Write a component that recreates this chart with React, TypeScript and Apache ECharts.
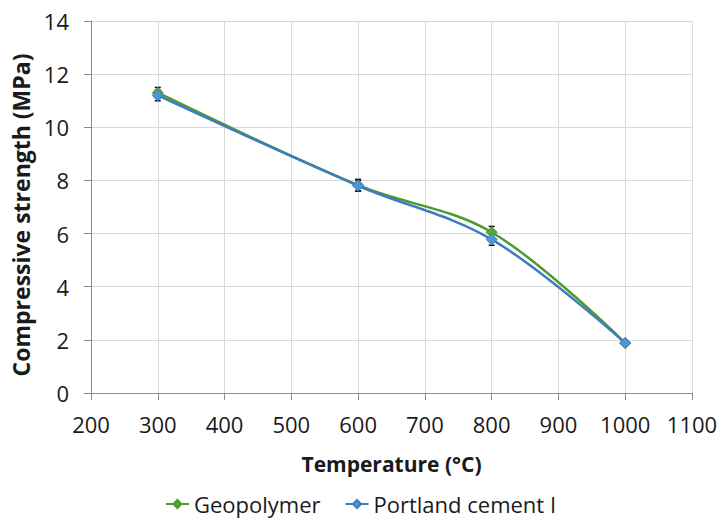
import React, { useEffect, useRef } from "react";
import * as echarts from "echarts";

const temperatures = [300, 600, 800, 1000];
const geopolymer = [11.3, 7.82, 6.05, 1.88];
const portland = [11.2, 7.8, 5.78, 1.88];
const geoErr = [0.2, 0.22, 0.22, 0.08];
const portErr = [0.2, 0.2, 0.22, 0.08];
const xTicks = [200, 1100, 100];
const yTicks = [0, 14, 2];

const FONT = "'Open Sans', 'Liberation Sans', sans-serif";

function errorSeries(name: string, values: number[], errs: number[]) {
  return {
    type: "custom",
    name: name + " error",
    z: 1,
    silent: true,
    data: temperatures.map((t, i) => [t, values[i] - errs[i], values[i] + errs[i]]),
    renderItem: (params: any, api: any) => {
      const x = api.value(0);
      const lo = api.coord([x, api.value(1)]);
      const hi = api.coord([x, api.value(2)]);
      const cap = 3;
      const style = { stroke: "#111", lineWidth: 1.5 };
      return {
        type: "group",
        children: [
          { type: "line", shape: { x1: lo[0], y1: lo[1], x2: hi[0], y2: hi[1] }, style },
          { type: "line", shape: { x1: lo[0] - cap, y1: lo[1], x2: lo[0] + cap, y2: lo[1] }, style },
          { type: "line", shape: { x1: hi[0] - cap, y1: hi[1], x2: hi[0] + cap, y2: hi[1] }, style },
        ],
      };
    },
  };
}

export default function App() {
  const ref = useRef<HTMLDivElement>(null);
  useEffect(() => {
    if (!ref.current) return;
    const chart = echarts.init(ref.current, null, { renderer: "svg" });
    chart.setOption({
      animation: false,
      backgroundColor: "#fff",
      textStyle: { fontFamily: FONT },
      grid: { left: 91, right: 29, top: 21, bottom: 127, containLabel: false },
      legend: {
        top: 488,
        left: "center",
        itemWidth: 23,
        itemHeight: 10,
        itemGap: 24,
        data: ["Geopolymer", "Portland cement I"],
        textStyle: { fontSize: 22, color: "#1a1a1a", fontFamily: FONT },
      },
      xAxis: {
        type: "value",
        min: xTicks[0],
        max: xTicks[1],
        interval: xTicks[2],
        name: "Temperature (°C)",
        nameLocation: "middle",
        nameGap: 60,
        nameTextStyle: { fontSize: 21, fontWeight: "bold", color: "#1a1a1a", fontFamily: FONT },
        axisLine: { show: true, lineStyle: { color: "#8c8c8c", width: 1 } },
        axisTick: { show: true, length: 7, lineStyle: { color: "#8c8c8c" } },
        axisLabel: { fontSize: 22, color: "#1a1a1a", margin: 20, fontFamily: FONT, formatter: (v: number) => String(v) },
        splitLine: { show: true, lineStyle: { color: "#d9d9d9", width: 1 } },
      },
      yAxis: {
        type: "value",
        min: yTicks[0],
        max: yTicks[1],
        interval: yTicks[2],
        name: "Compressive strength (MPa)",
        nameLocation: "middle",
        nameGap: 53,
        nameTextStyle: { fontSize: 23, fontWeight: "bold", color: "#1a1a1a", fontFamily: FONT, padding: [0, 16, 0, 0] },
        axisLine: { show: true, lineStyle: { color: "#8c8c8c", width: 1 } },
        axisTick: { show: true, length: 7, lineStyle: { color: "#8c8c8c" } },
        axisLabel: { fontSize: 22, color: "#1a1a1a", margin: 22, fontFamily: FONT },
        splitLine: { show: true, lineStyle: { color: "#d9d9d9", width: 1 } },
      },
      series: [
        errorSeries("Geopolymer", geopolymer, geoErr),
        errorSeries("Portland cement I", portland, portErr),
        {
          type: "line",
          name: "Geopolymer",
          z: 3,
          smooth: 0.35,
          data: temperatures.map((t, i) => [t, geopolymer[i]]),
          symbol: "diamond",
          symbolSize: 11,
          lineStyle: { color: "#4e9a2c", width: 2.5 },
          itemStyle: { color: "#5aa535", borderColor: "#4e9a2c", borderWidth: 1 },
        },
        {
          type: "line",
          name: "Portland cement I",
          z: 4,
          smooth: 0.35,
          data: temperatures.map((t, i) => [t, portland[i]]),
          symbol: "diamond",
          symbolSize: 11,
          lineStyle: { color: "#3d7cc0", width: 2.5 },
          itemStyle: { color: "#4f95d6", borderColor: "#3d7cc0", borderWidth: 1 },
        },
      ],
    });
    return () => chart.dispose();
  }, []);
  return <div ref={ref} style={{ width: 721, height: 520, position: "absolute", left: 0, top: 0 }} />;
}
